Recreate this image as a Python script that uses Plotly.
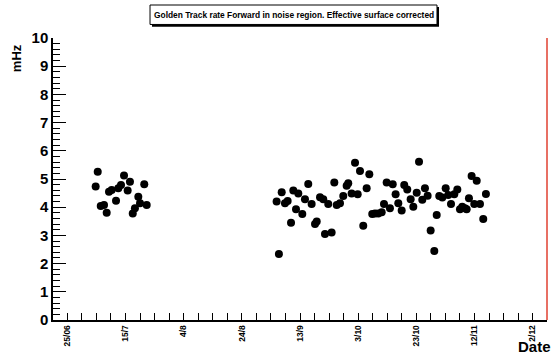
import plotly.graph_objects as go

# --- data -------------------------------------------------------------
dates = [
    "2008-07-04 18:00", "2008-07-05 11:00", "2008-07-06 12:00", "2008-07-07 15:00",
    "2008-07-08 13:00", "2008-07-09 08:00", "2008-07-10 06:00", "2008-07-11 18:00",
    "2008-07-12 13:00", "2008-07-13 11:00", "2008-07-14 12:00", "2008-07-15 18:00",
    "2008-07-16 13:00", "2008-07-17 12:00", "2008-07-18 06:00", "2008-07-19 10:00",
    "2008-07-20 00:00", "2008-07-21 11:00", "2008-07-22 07:00",
    "2008-09-04 23:00", "2008-09-05 18:00", "2008-09-06 17:00", "2008-09-07 20:00",
    "2008-09-08 18:00", "2008-09-09 22:00", "2008-09-10 17:00", "2008-09-11 15:00",
    "2008-09-12 10:00", "2008-09-13 19:00", "2008-09-14 17:00", "2008-09-15 20:00",
    "2008-09-17 00:00", "2008-09-18 04:00", "2008-09-18 18:00", "2008-09-19 21:00",
    "2008-09-21 00:00", "2008-09-21 14:00", "2008-09-22 17:00", "2008-09-23 21:00",
    "2008-09-24 19:00", "2008-09-25 15:00", "2008-09-26 18:00", "2008-09-27 21:00",
    "2008-09-29 01:00", "2008-09-29 14:00", "2008-09-30 18:00", "2008-10-01 22:00",
    "2008-10-02 20:00", "2008-10-03 15:00", "2008-10-04 18:00", "2008-10-05 22:00",
    "2008-10-06 20:00", "2008-10-07 20:00", "2008-10-08 19:00", "2008-10-09 22:00",
    "2008-10-11 02:00", "2008-10-11 21:00", "2008-10-12 19:00", "2008-10-13 22:00",
    "2008-10-14 21:00", "2008-10-15 21:00", "2008-10-16 19:00", "2008-10-17 23:00",
    "2008-10-18 20:00", "2008-10-19 21:00", "2008-10-21 01:00", "2008-10-21 23:00",
    "2008-10-23 03:00", "2008-10-23 22:00", "2008-10-25 01:00", "2008-10-25 23:00",
    "2008-10-26 21:00", "2008-10-27 22:00", "2008-10-29 04:00", "2008-10-30 00:00",
    "2008-10-30 21:00", "2008-10-31 22:00", "2008-11-02 02:00", "2008-11-02 23:00",
    "2008-11-03 22:00", "2008-11-05 01:00", "2008-11-06 02:00", "2008-11-07 00:00",
    "2008-11-07 19:00", "2008-11-08 17:00", "2008-11-09 07:00", "2008-11-10 02:00",
    "2008-11-11 00:00", "2008-11-11 22:00", "2008-11-12 18:00", "2008-11-13 21:00",
    "2008-11-15 00:00", "2008-11-15 22:00",
]
rate_mhz = [
    4.73, 5.26, 4.04, 4.08, 3.80, 4.55, 4.61, 4.23, 4.67, 4.79, 5.12, 4.59,
    4.90, 3.78, 3.96, 4.37, 4.14, 4.81, 4.08,
    4.20, 2.34, 4.53, 4.14, 4.22, 3.45, 4.59, 3.93, 4.49, 3.76, 4.28, 4.82,
    4.11, 3.40, 3.49, 4.35, 4.28, 3.05, 4.11, 3.10, 4.88, 4.08, 4.14, 4.40,
    4.76, 4.85, 4.49, 5.58, 4.46, 5.28, 3.34, 4.67, 5.17, 3.76, 3.78, 3.78,
    3.82, 4.11, 4.88, 3.96, 4.81, 4.46, 4.14, 3.88, 4.79, 4.63, 4.28, 4.02,
    4.51, 5.61, 4.26, 4.67, 4.41, 3.17, 2.45, 3.72, 4.40, 4.34, 4.67, 4.43,
    4.11, 4.46, 4.63, 3.93, 4.02, 3.96, 3.93, 4.32, 5.11, 4.11, 4.94, 4.11,
    3.58, 4.47,
]
x_tick_dates = ["2008-06-25", "2008-07-15", "2008-08-04", "2008-08-24", "2008-09-13",
                "2008-10-03", "2008-10-23", "2008-11-12", "2008-12-02"]
x_tick_labels = ["25/06", "15/7", "4/8", "24/8", "13/9", "3/10", "23/10", "12/11", "2/12"]
y_ticks = list(range(0, 11))
x_range = ["2008-06-20 02:00", "2008-12-06 22:00"]
y_range = [0, 10]
title_text = "Golden Track rate Forward in noise region. Effective surface corrected"

FONT = "Liberation Sans"

fig = go.Figure()
fig.add_trace(go.Scatter(
    x=dates, y=rate_mhz, mode="markers",
    marker=dict(color="black", size=8, line=dict(width=0)),
    showlegend=False, hoverinfo="x+y",
))

fig.update_layout(
    width=552, height=354,
    margin=dict(l=53, r=5, t=38, b=34),
    paper_bgcolor="white", plot_bgcolor="white",
    font=dict(family=FONT, color="black"),
)

fig.update_xaxes(
    type="date", range=x_range,
    tickmode="array", tickvals=x_tick_dates, ticktext=x_tick_labels,
    tickangle=-90, tickfont=dict(family=FONT, size=8.5, weight="bold"),
    ticks="inside", ticklen=7, tickcolor="black", tickwidth=1,
    minor=dict(ticks="inside", ticklen=7, tickcolor="black", tickwidth=1,
               dtick=5 * 86400000, tick0="2008-06-25", showgrid=False),
    showline=True, linecolor="black", linewidth=1.5,
    showgrid=False, zeroline=False, mirror=False,
)
fig.update_yaxes(
    range=y_range, tickmode="array", tickvals=y_ticks,
    tickfont=dict(family=FONT, size=15, weight="bold"),
    ticks="inside", ticklen=13, tickcolor="black", tickwidth=1,
    minor=dict(ticks="inside", ticklen=7, tickcolor="black", tickwidth=1,
               dtick=0.2, showgrid=False),
    showline=True, linecolor="black", linewidth=1.5,
    showgrid=False, zeroline=False,
)

# right frame edge (red in reference)
fig.add_shape(type="line", xref="paper", yref="paper", x0=1, x1=1, y0=0, y1=1,
              line=dict(color="#e04030", width=1.5))

# title box with shadow
fig.add_shape(type="rect", xref="paper", yref="paper",
              x0=0.2004, x1=0.7814, y0=1.040, y1=1.110,
              fillcolor="black", line=dict(width=0), layer="above")
fig.add_shape(type="rect", xref="paper", yref="paper",
              x0=0.1964, x1=0.7773, y0=1.048, y1=1.117,
              fillcolor="white", line=dict(color="black", width=1), layer="above")
fig.add_annotation(text=title_text, xref="paper", yref="paper",
                   x=0.4869, y=1.083, showarrow=False,
                   font=dict(family=FONT, size=8.4, weight="bold"),
                   xanchor="center", yanchor="middle")

# axis titles
fig.add_annotation(text="mHz", xref="paper", yref="paper", x=-0.075, y=0.985,
                   textangle=-90, showarrow=False, xanchor="center", yanchor="top",
                   font=dict(family=FONT, size=13, weight="bold"))
fig.add_annotation(text="Date", xref="paper", yref="paper", x=1.012, y=-0.058,
                   showarrow=False, xanchor="right", yanchor="top",
                   font=dict(family=FONT, size=15, weight="bold"))

fig.write_html("out.html")
